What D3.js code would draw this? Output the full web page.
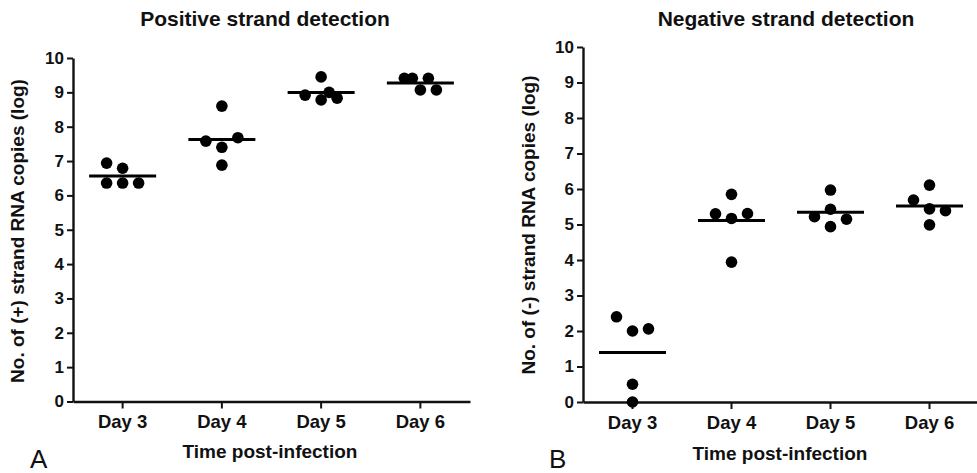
<!DOCTYPE html>
<html>
<head>
<meta charset="utf-8">
<script src="https://cdn.jsdelivr.net/npm/d3@7/dist/d3.min.js"></script>
<style>
  html, body { margin: 0; padding: 0; background: #fff; }
  svg { display: block; font-family: "Liberation Sans", Arial, sans-serif; }
</style>
</head>
<body>
<svg id="chart" width="977" height="473"></svg>
<script>
// ---- data ----
const categories = ["Day 3", "Day 4", "Day 5", "Day 6"];
const yTickValues = [0, 1, 2, 3, 4, 5, 6, 7, 8, 9, 10];

// Panel A: positive strand, log copies per animal
const posDay3 = [6.36, 6.36, 6.36, 6.79, 6.94];
const posDay4 = [6.88, 7.40, 7.58, 7.68, 8.60];
const posDay5 = [8.78, 8.92, 8.83, 9.00, 9.45];
const posDay6 = [9.07, 9.41, 9.07, 9.41, 9.41];

// Panel B: negative strand, log copies per animal
const negDay3 = [0.00, 0.50, 2.00, 2.40, 2.06];
const negDay4 = [3.94, 5.17, 5.30, 5.31, 5.85];
const negDay5 = [4.94, 5.22, 5.15, 5.43, 5.97];
const negDay6 = [4.99, 5.44, 5.69, 5.39, 6.11];

const panelA = {
  title: "Positive strand detection",
  yLabel: "No. of (+) strand RNA copies (log)",
  letter: "A",
  groups: [posDay3, posDay4, posDay5, posDay6]
};
const panelB = {
  title: "Negative strand detection",
  yLabel: "No. of (-) strand RNA copies (log)",
  letter: "B",
  groups: [negDay3, negDay4, negDay5, negDay6]
};

// ---- layout ----
const svg = d3.select("#chart");
svg.append("rect").attr("width", 977).attr("height", 473).attr("fill", "#fff");

// simple scatter-dot (beeswarm) placement
function swarm(values, y) {
  const placed = [];
  const primary = [0, -16, 16];
  const fallback = [-8, 8, 0, -16, 16];
  const D = 14.5;
  return values.map(v => {
    const py = y(v);
    const minDist = dx => placed.length ? d3.min(placed, p => Math.hypot(p.dx - dx, p.py - py)) : Infinity;
    let dx = primary.find(c => minDist(c) >= D);
    if (dx === undefined) {
      let best = -1;
      for (const c of fallback) {
        const m = minDist(c);
        if (m > best + 1e-9) { best = m; dx = c; }
      }
    }
    placed.push({ dx, py });
    return { v, dx };
  });
}

function drawPanel(p, cfg) {
  const g = svg.append("g");
  const x = d3.scaleBand().domain(categories).range(cfg.xRange).paddingInner(0).paddingOuter(0);
  const y = d3.scaleLinear().domain([0, 10]).range(cfg.yRange);

  // y axis
  const ya = g.append("g")
    .attr("transform", `translate(${cfg.xRange[0]},0)`)
    .call(d3.axisLeft(y).tickValues(yTickValues).tickFormat(d3.format("d")).tickSize(6).tickSizeOuter(0).tickPadding(3));
  ya.select(".domain").attr("stroke", "#111").attr("stroke-width", 2.4);
  ya.selectAll(".tick line").attr("stroke", "#111").attr("stroke-width", 2);
  ya.selectAll(".tick text")
    .attr("font-size", 17).attr("font-weight", "bold").attr("fill", "#111")
    .attr("font-family", "Liberation Sans, Arial, sans-serif");

  // x axis
  const xa = g.append("g")
    .attr("transform", `translate(0,${cfg.yRange[0]})`)
    .call(d3.axisBottom(x).tickSize(7).tickSizeOuter(0));
  xa.select(".domain").attr("stroke", "#111").attr("stroke-width", 2.4);
  xa.selectAll(".tick line").attr("stroke", "#111").attr("stroke-width", 2);
  xa.selectAll(".tick text")
    .attr("y", 26.5).attr("dy", 0)
    .attr("font-size", 18.5).attr("font-weight", "bold").attr("fill", "#111")
    .attr("font-family", "Liberation Sans, Arial, sans-serif");

  // dots + mean lines
  p.groups.forEach((vals, i) => {
    const cx = x(categories[i]) + x.bandwidth() / 2;
    const pts = swarm(vals, y);
    g.append("g").selectAll("circle").data(pts).join("circle")
      .attr("cx", d => cx + d.dx)
      .attr("cy", d => y(d.v))
      .attr("r", 5.8)
      .attr("fill", "#000");
    const m = d3.mean(vals);
    g.append("line")
      .attr("x1", cx - 33.5).attr("x2", cx + 33.5)
      .attr("y1", y(m)).attr("y2", y(m))
      .attr("stroke", "#000").attr("stroke-width", 3);
  });

  // titles
  g.append("text").attr("x", cfg.titleX).attr("y", 26)
    .attr("text-anchor", "middle").attr("font-size", 21).attr("font-weight", "bold").attr("fill", "#111")
    .text(p.title);
  g.append("text").attr("x", cfg.xTitleX).attr("y", cfg.xTitleY)
    .attr("text-anchor", "middle").attr("font-size", 19).attr("font-weight", "bold").attr("fill", "#111")
    .text("Time post-infection");
  g.append("text")
    .attr("transform", `translate(${cfg.yTitleX},${cfg.yTitleY}) rotate(-90)`)
    .attr("text-anchor", "middle").attr("font-size", 19).attr("font-weight", "bold").attr("fill", "#111")
    .text(p.yLabel);
  g.append("text").attr("x", cfg.letterX).attr("y", 468)
    .attr("font-size", 26).attr("fill", "#111")
    .text(p.letter);
}

drawPanel(panelA, {
  xRange: [73, 470], yRange: [401.5, 58],
  titleX: 265, xTitleX: 270, xTitleY: 458,
  yTitleX: 24, yTitleY: 231, letterX: 30
});
drawPanel(panelB, {
  xRange: [583, 979], yRange: [402, 47],
  titleX: 786, xTitleX: 780, xTitleY: 460,
  yTitleX: 535, yTitleY: 225, letterX: 549
});
</script>
</body>
</html>
